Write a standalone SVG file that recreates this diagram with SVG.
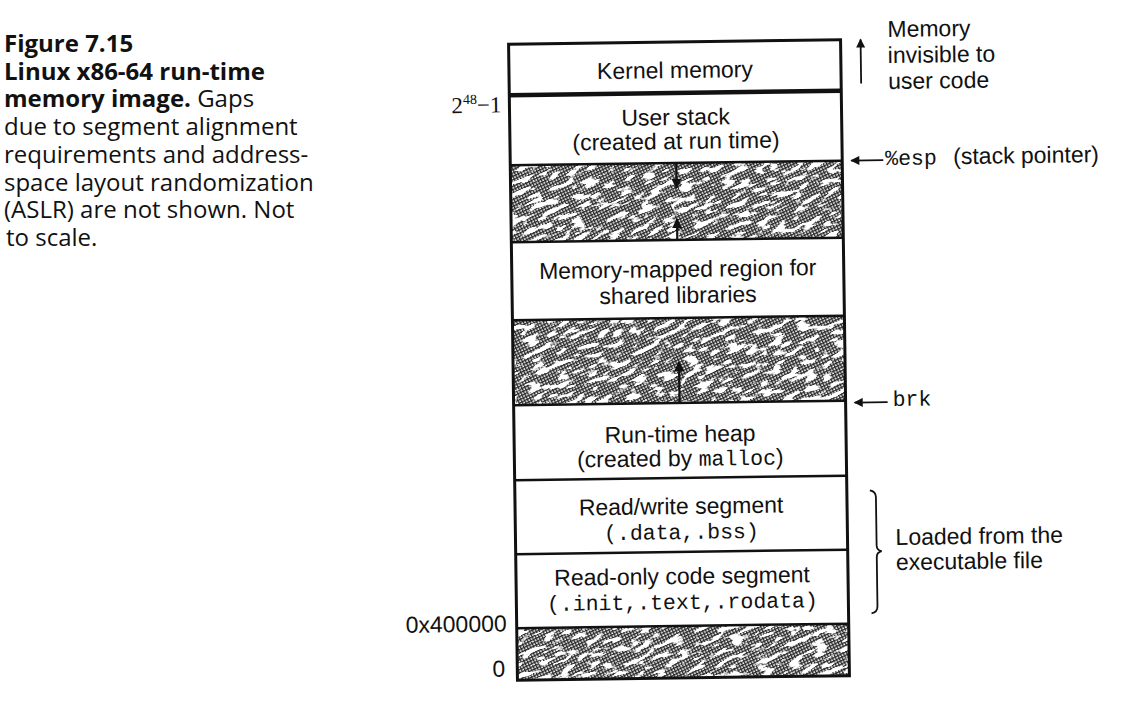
<svg xmlns="http://www.w3.org/2000/svg" width="1126" height="722" viewBox="0 0 1126 722">
<style>
.cap{font-family:"Open Sans","Noto Sans",sans-serif;font-size:24px;fill:#111}
.b{font-weight:bold}
.t{font-family:"Liberation Sans",Arial,sans-serif;font-size:23px;fill:#111}
.m{font-family:"Liberation Mono","Courier New",monospace;font-size:21.5px;fill:#111}
.c{text-anchor:middle}
.e{text-anchor:end}
.seg{fill:#fff;stroke:none}
.div{stroke:#111;stroke-width:2.5;fill:none}
.out{stroke:#111;stroke-width:3;fill:none}
.arr{stroke:#111;stroke-width:1.8;fill:none;marker-end:url(#ah)}
.arrs{stroke:#111;stroke-width:2.2;fill:none;marker-end:url(#ahs)}
.blob{fill:#fff;filter:url(#mottle)}
</style>
<defs>
<marker id="ah" viewBox="0 0 10 10" refX="9" refY="5" markerWidth="12" markerHeight="9" markerUnits="userSpaceOnUse" orient="auto"><path d="M0,0 L10,5 L0,10 z" fill="#111"/></marker>
<marker id="ahs" viewBox="0 0 10 10" refX="9" refY="5" markerWidth="11" markerHeight="10" markerUnits="userSpaceOnUse" orient="auto"><path d="M0,0 L10,5 L0,10 z" fill="#111"/></marker>
<pattern id="dots" width="3" height="3" patternUnits="userSpaceOnUse" patternTransform="rotate(-25)">
<rect width="3" height="3" fill="#fff"/>
<rect width="3" height="1.3" fill="#2a2a2a"/>
<rect width="1.3" height="3" fill="#2a2a2a"/>
</pattern>
<filter id="mottle" x="0" y="0" width="1" height="1">
<feTurbulence type="fractalNoise" baseFrequency="0.07 0.2" numOctaves="3" seed="11"/>
<feColorMatrix type="matrix" values="0 0 0 0 1  0 0 0 0 1  0 0 0 0 1  -12 0 0 0 5.6"/>
</filter>
<clipPath id="cg1"><rect x="513" y="163" width="332" height="77"/></clipPath>
<clipPath id="cg2"><rect x="513" y="318" width="332" height="85"/></clipPath>
<clipPath id="cg3"><rect x="513" y="626" width="332" height="52"/></clipPath>
</defs>
<rect width="1126" height="722" fill="#fff"/>

<g id="caption">
<text class="cap b" x="4" y="52">Figure 7.15</text>
<text class="cap b" x="4" y="80">Linux x86-64 run-time</text>
<text class="cap" x="4" y="107"><tspan class="b">memory image.</tspan> Gaps</text>
<text class="cap" x="4" y="135">due to segment alignment</text>
<text class="cap" x="4" y="163">requirements and address-</text>
<text class="cap" x="4" y="191">space layout randomization</text>
<text class="cap" x="4" y="218">(ASLR) are not shown. Not</text>
<text class="cap" x="6" y="246">to scale.</text>
</g>

<g id="diagram" transform="rotate(-0.8 679 360)">
<g id="kernel"><rect class="seg" x="513" y="42" width="332" height="51"/><text class="t c" x="679" y="78">Kernel memory</text></g>
<g id="stack"><rect class="seg" x="513" y="93" width="332" height="70"/><text class="t c" x="679" y="125">User stack</text><text class="t c" x="679" y="149">(created at run time)</text></g>
<g id="gap-stack">
<g clip-path="url(#cg1)"><rect x="513" y="163" width="332" height="77" fill="url(#dots)"/><rect class="blob" x="450" y="60" width="460" height="280" transform="rotate(-22 679 200)"/></g>
</g>
<g id="mmap"><rect class="seg" x="513" y="240" width="332" height="78"/><text class="t c" x="679" y="277">Memory-mapped region for</text><text class="t c" x="679" y="303">shared libraries</text></g>
<g id="gap-heap">
<g clip-path="url(#cg2)"><rect x="513" y="318" width="332" height="85" fill="url(#dots)"/><rect class="blob" x="450" y="220" width="460" height="280" transform="rotate(-22 679 360)"/></g>
</g>
<g id="heap"><rect class="seg" x="513" y="403" width="332" height="75"/><text class="t c" x="679" y="442">Run-time heap</text><text class="t c" x="679" y="466">(created by <tspan class="m">malloc</tspan>)</text></g>
<g id="rw"><rect class="seg" x="513" y="478" width="332" height="74"/><text class="t c" x="679" y="514">Read/write segment</text><text class="m c" x="679" y="539">(.data,.bss)</text></g>
<g id="ro"><rect class="seg" x="513" y="552" width="332" height="74"/><text class="t c" x="679" y="584">Read-only code segment</text><text class="m c" x="679" y="609">(.init,.text,.rodata)</text></g>
<g id="gap-bottom">
<g clip-path="url(#cg3)"><rect x="513" y="626" width="332" height="52" fill="url(#dots)"/><rect class="blob" x="450" y="520" width="460" height="260" transform="rotate(-22 679 652)"/></g>
</g>

<g id="frame">
<rect class="out" x="513" y="42" width="332" height="636"/>
<line x1="513" y1="93" x2="845" y2="93" stroke="#111" stroke-width="4.5"/>
<line class="div" x1="513" y1="163" x2="845" y2="163"/>
<line class="div" x1="513" y1="240" x2="845" y2="240"/>
<line class="div" x1="513" y1="318" x2="845" y2="318"/>
<line class="div" x1="513" y1="403" x2="845" y2="403"/>
<line class="div" x1="513" y1="478" x2="845" y2="478"/>
<line class="div" x1="513" y1="552" x2="845" y2="552"/>
<line class="div" x1="513" y1="626" x2="845" y2="626" stroke-width="3"/>
</g>

<g id="connectors">
<line class="arrs" x1="679" y1="164" x2="679" y2="188"/>
<line class="arrs" x1="679" y1="240" x2="679" y2="219"/>
<line class="arrs" x1="679" y1="403" x2="679" y2="362"/>
<line class="arr" x1="865" y1="86" x2="865" y2="42"/>
<line class="arr" x1="886" y1="163" x2="854" y2="163"/>
<line class="arr" x1="887" y1="405" x2="854" y2="405"/>
<path d="M868,493 Q874,494 874,500 L874,548 Q874,553 879,554 Q874,555 874,560 L874,609 Q874,615 868,616" stroke="#111" stroke-width="1.8" fill="none"/>
</g>

<g id="labels">
<text class="e" x="505" y="110" style="font-family:'Liberation Serif',serif;font-size:23px;fill:#111">2<tspan font-size="14" dy="-9">48</tspan><tspan dy="9">−1</tspan></text>
<text class="t e" x="503" y="629">0x400000</text>
<text class="t e" x="501" y="674">0</text>
<text class="t" x="892" y="40">Memory</text>
<text class="t" x="892" y="66">invisible to</text>
<text class="t" x="892" y="92">user code</text>
<text class="m" x="888" y="168">%esp</text>
<text class="t" x="956" y="168">(stack pointer)</text>
<text class="m" x="892" y="409">brk</text>
<text class="t" x="893" y="548">Loaded from the</text>
<text class="t" x="893" y="573">executable file</text>
</g>
</g>
</svg>
